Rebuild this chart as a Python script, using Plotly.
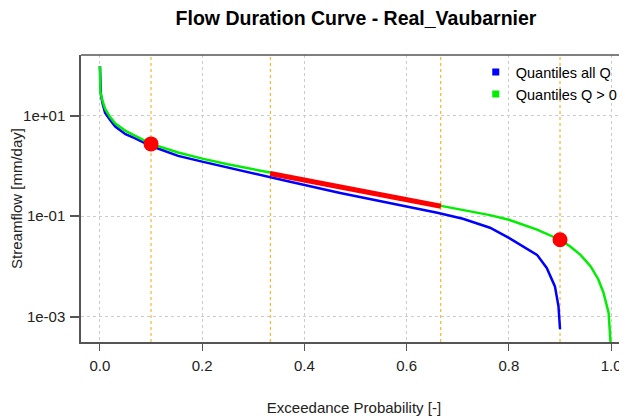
import plotly.graph_objects as go

# ---- data ----
prob_pos = [0.0, 0.001, 0.005, 0.01, 0.02, 0.03, 0.05, 0.068, 0.10, 0.153,
            0.20, 0.25, 0.333, 0.37, 0.50, 0.66, 0.70, 0.724, 0.763, 0.80, 0.855, 0.90,
            0.92, 0.94, 0.96, 0.975, 0.985, 0.995, 1.0]
q_pos = [98, 30, 20, 13.8, 9.4, 7.0, 5.0, 4.0, 2.75, 1.86,
         1.40, 1.08, 0.74, 0.60, 0.335, 0.162, 0.138, 0.123, 0.105, 0.085, 0.054, 0.034,
         0.025, 0.017, 0.010, 0.0055, 0.003, 0.0012, 0.0002]

prob_all = [0.0, 0.002, 0.005, 0.01, 0.02, 0.03, 0.05, 0.068, 0.10, 0.153,
            0.20, 0.25, 0.333, 0.37, 0.47, 0.60, 0.66, 0.71, 0.724, 0.763, 0.80,
            0.835, 0.855, 0.874, 0.89, 0.897, 0.90]
q_all = [98, 26, 18, 11.5, 8.2, 6.1, 4.3, 3.6, 2.5, 1.59,
         1.22, 0.93, 0.58, 0.49, 0.29, 0.158, 0.117, 0.089, 0.080, 0.059, 0.037,
         0.023, 0.017, 0.0093, 0.004, 0.0016, 0.00056]

slope_prob = [0.333, 0.667]
slope_q = [0.71, 0.158]

point_prob = [0.1, 0.9]
point_q = [2.75, 0.034]

quantile_probs = [0.1, 1 / 3, 2 / 3, 0.9]

x_ticks = [0.0, 0.2, 0.4, 0.6, 0.8, 1.0]
x_ticktext = ["0.0", "0.2", "0.4", "0.6", "0.8", "1.0"]
y_ticks = [1e-3, 1e-1, 1e1]
y_ticktext = ["1e-03", "1e-01", "1e+01"]

title = "Flow Duration Curve - Real_Vaubarnier"
legend_names = ["Quantiles all Q", "Quantiles Q > 0"]

FONT = "Liberation Sans, Arial, sans-serif"
TXT = "#222222"

# the page body adds an 8px offset, so the figure is sized to fill the rest of the window
W, H = 619, 411

fig = go.Figure()

for p in quantile_probs:
    fig.add_vline(x=p, line=dict(color="#FFA500", width=1, dash="dot"), layer="below")

fig.add_trace(go.Scatter(x=prob_all, y=q_all, mode="lines",
                         line=dict(color="#0000FF", width=2.5), showlegend=False))
fig.add_trace(go.Scatter(x=prob_pos, y=q_pos, mode="lines",
                         line=dict(color="#00EE00", width=2.5), showlegend=False))
fig.add_trace(go.Scatter(x=slope_prob, y=slope_q, mode="lines",
                         line=dict(color="#FF0000", width=5), showlegend=False))
fig.add_trace(go.Scatter(x=point_prob, y=point_q, mode="markers",
                         marker=dict(color="#FF0000", size=15), showlegend=False))

for name, col in zip(legend_names, ["#0000FF", "#00EE00"]):
    fig.add_trace(go.Scatter(x=[None], y=[None], mode="markers", name=name,
                             marker=dict(color=col, size=7, symbol="square")))

fig.add_shape(type="line", xref="paper", yref="paper", x0=0, x1=1, y0=1, y1=1,
              line=dict(color="#555555", width=1.5))

fig.update_layout(
    width=W, height=H,
    margin=dict(l=73, r=0, t=47, b=77, autoexpand=False),
    paper_bgcolor="white", plot_bgcolor="white",
    font=dict(family=FONT, size=15, color=TXT),
    title=dict(text="<b>" + title + "</b>", x=(348 / W), xanchor="center",
               y=1 - 10 / H, yanchor="middle",
               font=dict(family=FONT, size=19.5, color="black")),
    legend=dict(x=0.723, y=0.996, xanchor="left", yanchor="top",
                bgcolor="rgba(0,0,0,0)", font=dict(family=FONT, size=14.5, color="black"),
                itemwidth=30, tracegroupgap=0),
    showlegend=True,
)

fig.update_xaxes(
    range=[-0.037, 1.031], automargin=False,
    tickvals=x_ticks, ticktext=x_ticktext,
    ticks="outside", ticklen=7, tickcolor="#555555", tickwidth=1,
    ticklabelstandoff=2,
    showline=True, linecolor="#555555", linewidth=1.5,
    showgrid=True, gridcolor="#CCCCCC", griddash="dot", gridwidth=1,
    zeroline=False,
    title=dict(text="Exceedance Probability [-]", standoff=30,
               font=dict(family=FONT, size=15, color=TXT)),
    tickfont=dict(family=FONT, size=15, color=TXT),
)

fig.update_yaxes(
    type="log", range=[-3.505, 2.21], automargin=False,
    tickvals=y_ticks, ticktext=y_ticktext,
    ticks="outside", ticklen=9, tickcolor="#555555", tickwidth=1.5,
    ticklabelstandoff=2,
    showline=True, linecolor="#555555", linewidth=1.5,
    showgrid=True, gridcolor="#CCCCCC", griddash="dot", gridwidth=1,
    zeroline=False,
    title=dict(text="Streamflow [mm/day]", standoff=3,
               font=dict(family=FONT, size=15, color=TXT)),
    tickfont=dict(family=FONT, size=15, color=TXT),
)

fig.write_html("out.html")
